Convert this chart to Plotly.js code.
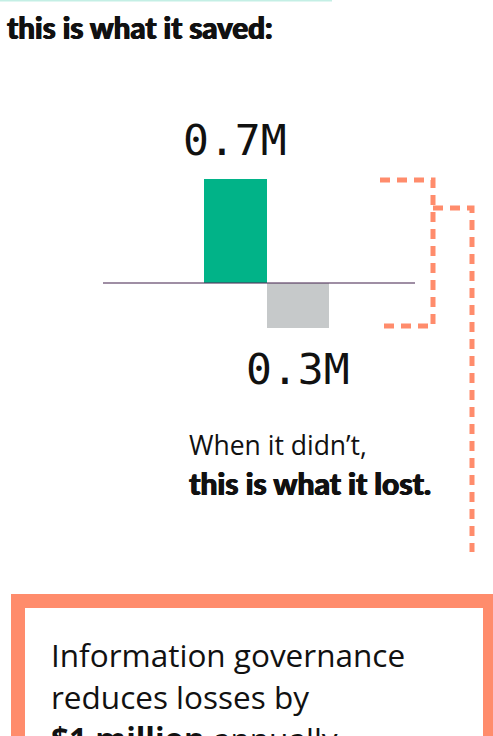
<!DOCTYPE html>
<html>
<head>
<meta charset="utf-8">
<script src="https://cdn.plot.ly/plotly-3.0.1.min.js"></script>
<style>
  html, body { margin: 0; padding: 0; background: #ffffff; }
  #chart { width: 493px; height: 736px; }
</style>
</head>
<body>
<div id="chart"></div>
<script>
// ---- data ----
const categories = ['Saved', 'Lost'];
const values = [0.7, -0.3];
const valueLabels = ['0.7M', '0.3M'];

// ---- styles ----
const W = 493, H = 736;
const px = x => x / W;
const py = y => 1 - y / H;
const GREEN = '#01b388';
const GRAY = '#c6c9ca';
const SALMON = '#ff8c6c';
const INK = '#111111';
const HEAVY = '0.7px 0 0 #111111, -0.4px 0 0 #111111';

const trace = {
  type: 'bar',
  x: categories,
  y: values,
  width: 1.0,
  marker: { color: [GREEN, GRAY], line: { width: 0 } },
  hoverinfo: 'skip'
};

const annotations = [];
// value labels, attached to bars through the data axes
categories.forEach((c, i) => {
  annotations.push({
    x: c, y: values[i], xref: 'x', yref: 'y',
    text: valueLabels[i], showarrow: false,
    xanchor: 'center', yanchor: 'middle',
    yshift: values[i] >= 0 ? 39 : -41,
    font: { family: 'DejaVu Sans Mono', size: 43, color: INK }
  });
});

function txt(text, x, y, size, weight, family, shadow) {
  annotations.push({
    xref: 'paper', yref: 'paper', x: px(x), y: py(y),
    xanchor: 'left', yanchor: 'middle', showarrow: false,
    text: text,
    font: { family: family || 'Lato', size: size, color: INK, weight: weight || 400, shadow: shadow || 'none' }
  });
}
txt('this is what it saved:', 5, 27, 29.5, 900, 'Lato', HEAVY);
txt('When it didn\u2019t,', 187, 445, 26.5, 400, 'Open Sans');
txt('this is what it lost.', 187, 483, 30, 900, 'Lato', HEAVY);
txt('Information governance', 49, 654, 31.5, 400, 'Open Sans');
txt('reduces losses by', 49, 696, 31.5, 400, 'Open Sans');
txt('<b>$1 million</b> annually', 49, 738, 31.5, 400, 'Open Sans');

const dashStyle = '10px,7px';
const shapes = [
  // faint teal rule at the very top
  { type: 'line', xref: 'paper', yref: 'paper', x0: px(0), x1: px(332), y0: py(0.5), y1: py(0.5),
    line: { color: '#c4efe5', width: 2 } },
  // zero baseline over bars
  { type: 'line', xref: 'paper', yref: 'y', x0: px(103), x1: px(415), y0: 0, y1: 0, layer: 'above',
    line: { color: 'rgba(80,50,90,0.55)', width: 2 } },
  // bracket 1
  { type: 'path', xref: 'paper', yref: 'paper', layer: 'above',
    path: `M ${px(380)},${py(180)} L ${px(433)},${py(180)} L ${px(433)},${py(326)} L ${px(380)},${py(326)}`,
    line: { color: SALMON, width: 5, dash: dashStyle } },
  // bracket 2
  { type: 'path', xref: 'paper', yref: 'paper', layer: 'above',
    path: `M ${px(433)},${py(208)} L ${px(472)},${py(208)} L ${px(472)},${py(552)}`,
    line: { color: SALMON, width: 5, dash: dashStyle } },
  // callout box
  { type: 'rect', xref: 'paper', yref: 'paper', layer: 'below',
    x0: px(18), x1: px(490), y0: py(601), y1: py(760),
    line: { color: SALMON, width: 14 }, fillcolor: '#ffffff' }
];

const layout = {
  width: W, height: H,
  margin: { l: 0, r: 0, t: 0, b: 0, pad: 0 },
  paper_bgcolor: '#ffffff', plot_bgcolor: 'rgba(0,0,0,0)',
  showlegend: false,
  bargap: 0,
  xaxis: { type: 'category', range: [-3.798, 4.153], domain: [0, 1], visible: false, fixedrange: true },
  yaxis: { range: [-3.0485, 1.9044], domain: [0, 1], visible: false, zeroline: false, showgrid: false, fixedrange: true },
  annotations: annotations,
  shapes: shapes
};

Plotly.newPlot('chart', [trace], layout, { staticPlot: true, displayModeBar: false });
</script>
</body>
</html>
